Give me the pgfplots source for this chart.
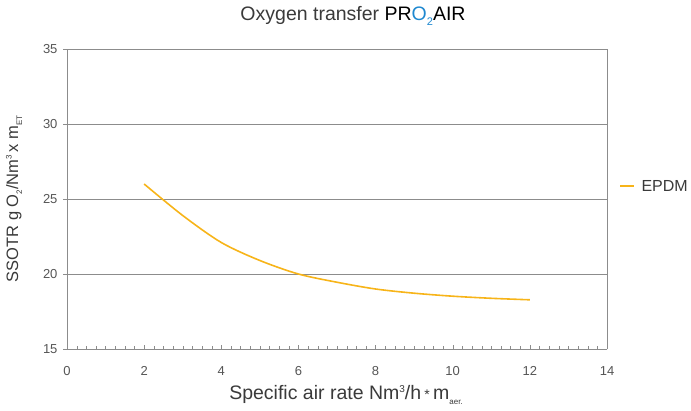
\documentclass[border=0pt]{standalone}
\usepackage{pgfplots}
\pgfplotsset{compat=1.18}
\usepackage{fontspec}
\setmainfont{Liberation Sans}
\definecolor{curve}{HTML}{F7B419}
\definecolor{txt}{HTML}{3A3A3A}
\definecolor{tick}{HTML}{555555}
\definecolor{grd}{HTML}{8C8C8C}
\definecolor{bl}{HTML}{1E88D0}
% small raised / lowered text as in the reference
\newcommand\up[2][8]{\raisebox{0.75ex}{\fontsize{#1}{#1}\selectfont #2}}
\newcommand\dn[2][8]{\raisebox{-0.45ex}{\fontsize{#1}{#1}\selectfont #2}}
\begin{document}
\begin{tikzpicture}[x=1pt,y=1pt]
  \path[use as bounding box] (-67,-61) rectangle (624,349);
  \begin{axis}[
      at={(0,0)}, anchor=south west,
      scale only axis,
      width=540pt, height=300pt,
      xmin=0, xmax=14, ymin=15, ymax=35,
      xtick={0,2,...,14}, ytick={15,20,...,35},
      minor x tick num=7,
      axis line style={grd},
      axis x line*=bottom, axis y line*=left,
      xtick align=inside, ytick align=outside,
      major tick length=4pt, minor tick length=3pt,
      tick style={grd},
      ymajorgrids, grid style={grd, line width=0.6pt},
      tick label style={font=\fontsize{13}{15}\selectfont, text=tick},
      /pgf/number format/assume math mode=true,
      xticklabel style={yshift=-14pt},
      yticklabel style={xshift=-2pt},
      clip=false,
    ]
    \addplot[curve, line width=1.6pt, smooth] coordinates {
      (2,26.0) (3,23.9) (4,22.1) (5,20.9) (6,20.0) (7,19.45) (8,19.0)
      (9,18.72) (10,18.52) (11,18.38) (12,18.28)
    };
    \draw[grd] (axis cs:14,15) -- (axis cs:14,35);
  \end{axis}
  \node[text=txt, font=\fontsize{19.5}{22}\selectfont] at (286,333)
    {Oxygen transfer {\color{black}PR}{\color{bl}O\dn[11]{2}}{\color{black}AIR}};
  \node[text=txt, font=\fontsize{19.5}{22}\selectfont] at (279,-46)
    {Specific air rate Nm\up[10]{3}/h\,{\fontsize{14}{14}\selectfont *}\,m\dn[8]{aer.}};
  \node[text=txt, font=\fontsize{16.5}{19}\selectfont, rotate=90] at (-53,150)
    {SSOTR g O\dn[8]{2}/Nm\up[8]{3}\,x m\dn[8]{ET}};
  \draw[curve, line width=1.6pt] (553,163) -- (567,163);
  \node[text=txt, font=\fontsize{16}{19}\selectfont, anchor=west] at (571,163) {EPDM};
\end{tikzpicture}
\end{document}
